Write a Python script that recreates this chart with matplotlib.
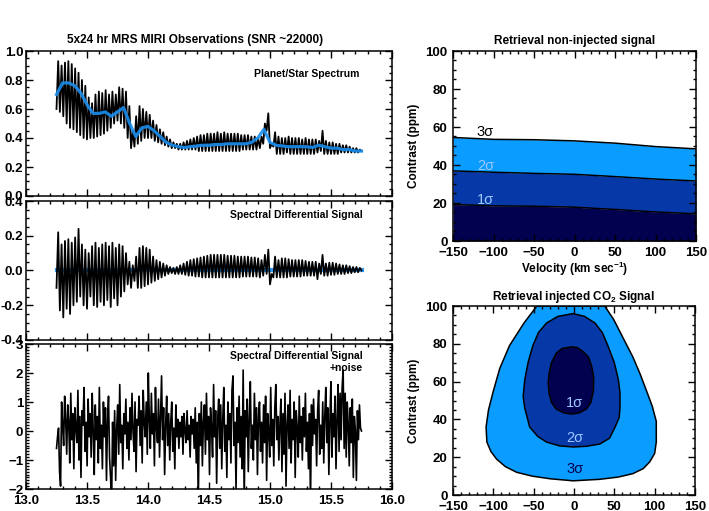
import numpy as np
import matplotlib
matplotlib.use('Agg')
import matplotlib.pyplot as plt
from matplotlib.ticker import MultipleLocator

plt.rcParams['font.family'] = ['Liberation Sans', 'DejaVu Sans']
plt.rcParams['font.weight'] = 'bold'
plt.rcParams['axes.titleweight'] = 'bold'
plt.rcParams['axes.labelweight'] = 'bold'
plt.rcParams['mathtext.fontset'] = 'custom'
plt.rcParams['mathtext.rm'] = 'Liberation Sans:bold'
plt.rcParams['mathtext.default'] = 'rm'

# ---- data ----
# planet/star spectrum: trough, peak per line cycle (13.25 - 15.75 um)
spec_trough = [0.60, 0.58, 0.55, 0.50, 0.47, 0.46, 0.44, 0.42, 0.40, 0.39,
               0.40, 0.40, 0.41, 0.42, 0.43, 0.45, 0.47, 0.50, 0.52, 0.50,
               0.47, 0.40, 0.33, 0.34, 0.36, 0.38, 0.40, 0.40, 0.40, 0.38,
               0.37, 0.36, 0.35, 0.34, 0.33, 0.33, 0.32, 0.32, 0.32, 0.32,
               0.32, 0.32, 0.31, 0.31, 0.31, 0.31, 0.31, 0.31, 0.31, 0.31,
               0.31, 0.31, 0.31, 0.31, 0.31, 0.32, 0.32, 0.32, 0.32, 0.32,
               0.33, 0.36, 0.45, 0.33, 0.34, 0.29, 0.29, 0.29, 0.30, 0.29,
               0.29, 0.29, 0.29, 0.29, 0.29, 0.29, 0.29, 0.30, 0.31, 0.29,
               0.29, 0.29, 0.29, 0.29, 0.30, 0.30, 0.30, 0.30, 0.30, 0.30]
spec_peak = [0.93, 0.90, 0.92, 0.93, 0.91, 0.88, 0.85, 0.80, 0.76, 0.68,
             0.64, 0.70, 0.72, 0.71, 0.73, 0.70, 0.72, 0.70, 0.75, 0.74,
             0.72, 0.62, 0.45, 0.55, 0.62, 0.60, 0.58, 0.56, 0.52, 0.49,
             0.46, 0.44, 0.41, 0.39, 0.37, 0.36, 0.36, 0.37, 0.38, 0.39,
             0.40, 0.41, 0.42, 0.42, 0.43, 0.43, 0.43, 0.44, 0.43, 0.44,
             0.43, 0.43, 0.43, 0.43, 0.42, 0.42, 0.42, 0.41, 0.41, 0.40,
             0.41, 0.50, 0.57, 0.36, 0.44, 0.41, 0.40, 0.40, 0.41, 0.40,
             0.40, 0.40, 0.39, 0.40, 0.39, 0.39, 0.39, 0.38, 0.45, 0.38,
             0.37, 0.37, 0.36, 0.36, 0.35, 0.35, 0.34, 0.33, 0.33, 0.32]
spec_end = 0.31

# smoothed (binned) spectrum, every 0.05 um
smooth = [0.70, 0.78, 0.78, 0.76, 0.71, 0.63, 0.57, 0.57, 0.58, 0.55,
          0.58, 0.61, 0.50, 0.41, 0.47, 0.48, 0.45, 0.41, 0.37, 0.35,
          0.34, 0.335, 0.34, 0.345, 0.35, 0.35, 0.355, 0.355, 0.36, 0.36,
          0.36, 0.36, 0.37, 0.40, 0.46, 0.37, 0.35, 0.345, 0.34, 0.34,
          0.34, 0.34, 0.335, 0.35, 0.34, 0.33, 0.33, 0.32, 0.32, 0.31, 0.31]

# spectral differential signal: trough, peak per cycle
diff_trough = [-0.10, -0.23, -0.27, -0.22, -0.25, -0.20, -0.18, -0.15, -0.20, -0.22,
               -0.15, -0.20, -0.21, -0.18, -0.20, -0.17, -0.21, -0.16, -0.20, -0.15,
               -0.12, -0.08, -0.10, -0.06, -0.10, -0.10, -0.09, -0.08, -0.07, -0.06,
               -0.05, -0.04, -0.03, -0.02, -0.015, -0.02, -0.02, -0.02, -0.025, -0.03,
               -0.03, -0.035, -0.035, -0.04, -0.04, -0.04, -0.04, -0.04, -0.04, -0.04,
               -0.04, -0.04, -0.04, -0.04, -0.04, -0.035, -0.035, -0.035, -0.035, -0.035,
               -0.04, -0.03, -0.02, -0.08, -0.04, -0.04, -0.04, -0.04, -0.04, -0.035,
               -0.035, -0.035, -0.035, -0.03, -0.03, -0.03, -0.03, -0.05, -0.02, -0.03,
               -0.03, -0.025, -0.025, -0.02, -0.02, -0.02, -0.015, -0.015, -0.01, -0.01]
diff_peak = [0.22, 0.15, 0.17, 0.18, 0.16, 0.19, 0.24, 0.15, 0.12, 0.10,
             0.14, 0.16, 0.13, 0.15, 0.16, 0.14, 0.16, 0.13, 0.15, 0.14,
             0.10, 0.05, 0.03, 0.08, 0.13, 0.14, 0.13, 0.12, 0.08, 0.06,
             0.05, 0.04, 0.03, 0.02, 0.015, 0.02, 0.03, 0.04, 0.05, 0.06,
             0.065, 0.07, 0.075, 0.08, 0.085, 0.09, 0.09, 0.09, 0.09, 0.09,
             0.085, 0.085, 0.085, 0.08, 0.08, 0.08, 0.08, 0.075, 0.075, 0.07,
             0.06, 0.09, 0.12, -0.02, 0.08, 0.06, 0.07, 0.07, 0.065, 0.06,
             0.06, 0.06, 0.06, 0.055, 0.05, 0.05, 0.05, 0.04, 0.09, 0.04,
             0.045, 0.045, 0.04, 0.035, 0.03, 0.03, 0.025, 0.02, 0.02, 0.015]
diff_end = 0.0

# differential signal + noise
noisy = [-0.6, -0.2, 0.1, -1.4, -1.9, 1.0, 0.2, -0.5, 1.2, 0.4, -0.8, 0.9, 0.3, -1.1, 1.3, -0.3, 0.6, -1.3, 0.8, 0.1,
         -0.4, 1.4, -1.0, 0.5, -1.6, 0.7, 0.2, 1.5, -0.7, 0.3, -1.2, 1.1, -0.2, 0.6, -0.9, 1.3, 0.0, -1.5, 0.9, -0.3,
         0.5, -1.1, 1.5, -0.6, 0.2, -1.3, 1.0, -0.2, 0.8, -1.7, 0.4, 1.2, -0.9, -1.6, -2.5, 0.3, -1.2, 0.7, -1.7, 0.1,
         0.9, -0.8, 1.6, -0.4, 0.2, -1.3, 0.6, -0.1, 1.1, -0.6, 0.3, -1.0, 0.8, -0.3, 1.3, 0.0, -0.7, 1.0, -1.4, 0.4,
         0.2, 1.2, -0.5, 0.7, -1.1, 1.4, 0.3, -0.2, 1.0, -0.8, 2.0, 0.4, -0.6, 1.3, -0.1, 0.6, -1.2, 1.5, 0.1, -0.4,
         1.1, -0.9, 0.5, 1.9, -0.3, 0.8, -1.5, 0.2, 1.2, -0.5, 0.6, -1.0, 0.3, 1.0, -0.7, 0.1, -1.3, 0.9, -0.2, 0.4,
         -0.6, 0.3, -0.2, 0.5, -0.8, 0.6, 0.0, -0.4, 0.7, -0.3, 0.2, -0.9, 0.5, -0.1, 0.4, -0.6, 0.8, -1.1, 0.3, -2.5,
         0.6, -0.5, 1.0, -1.2, 0.3, 0.9, -0.8, 1.3, -0.3, 0.5, -1.5, 0.8, 0.1, -0.9, 1.6, -0.2, 0.7, -1.8, 0.4, 1.1,
         -0.6, 0.9, -1.3, 0.4, 1.5, -0.7, 0.2, -1.6, 1.0, -0.3, 0.6, -1.1, 1.4, 1.9, -0.5, 0.3, -2.0, 0.8, -0.4, 1.2,
         -0.9, 0.5, -1.3, 2.1, -2.5, 0.7, -0.2, 1.1, -1.4, 0.4, 1.7, -0.6, 0.2, -1.0, 1.3, -0.3, 0.8, -1.5, 0.5, 1.0,
         -0.7, 0.3, -1.1, 0.9, -0.4, 1.2, -1.7, 0.6, 0.0, -0.9, 1.5, -0.5, 0.4, -1.2, 0.8, 1.6, -0.3, 0.5, -1.0, 0.2,
         1.1, -1.4, 0.6, -0.8, 1.3, -1.9, 0.2, 0.9, -0.6, 1.4, -1.1, 0.4, -0.3, 1.0, -1.6, 0.7, 0.1, -0.9, 1.2, -0.4,
         0.5, -1.0, 0.8, -0.2, 1.3, -0.7, 0.3, -1.3, 0.6, -2.5, 0.9, -0.5, 1.1, -0.1, 0.4, -1.2, 0.7, 1.4, -0.8, 0.2,
         -0.6, 1.0, -1.1, 0.5, 1.5, -0.4, 0.8, -1.5, 0.3, 1.7, -0.9, 0.6, -0.2, 1.2, -1.3, 0.4, 1.6, -0.7, 1.3, -0.3,
         1.5, 2.1, -0.6, 1.3, -0.9, 1.0, 0.2, -1.2, 0.8, -0.4, 1.1, -1.6, 0.5, 0.0, -1.7, 0.7, -0.3, 0.9, 0.1, 0.0]

wl_start, wl_end = 13.25, 15.75

# retrieval without injected signal: upper limits vs velocity
vel = [-150, -100, -50, 0, 50, 100, 150]
lim_1s = [19.2, 18.5, 18.3, 17.8, 16.6, 15.3, 14.3]
lim_2s = [36.9, 36.2, 35.6, 35.1, 33.9, 32.6, 31.6]
lim_3s = [54.5, 53.5, 53.3, 52.7, 51.5, 49.7, 48.5]

# retrieval with injected CO2 signal: confidence contours (velocity, contrast)
c3_v = [-46, -62, -80, -92, -100, -106, -109, -108, -103, -96, -85, -71, -52, -30, -1, 32, 55, 73, 86, 94, 100, 102, 102, 97, 90, 82, 73, 61, 49, 38]
c3_c = [100, 91, 79, 67, 55, 45, 36, 28, 23, 19, 15, 12, 10, 8.6, 7.5, 8.3, 9.5, 11.3, 14, 17.6, 22, 28, 39, 47, 55, 64, 73, 83, 93, 100]
c2_v = [-1, -20, -34, -44, -51, -57, -61, -63, -61, -55, -45, -34, -18, -1, 16, 32, 44, 51, 56, 57, 57, 55, 50, 42, 35, 26, 13]
c2_c = [96, 94.5, 91, 86, 79, 70, 61, 52, 46, 36, 31, 28, 26, 25.4, 25.8, 27, 30, 36, 41, 46, 54, 61, 70, 79, 86, 91, 94.5]
c1_v = [-3, -15, -22, -28, -31, -32, -31, -28, -22, -13, -3, 7, 15.5, 21, 24, 24.5, 22, 18, 11, 4]
c1_c = [78.4, 77.5, 75, 70, 64, 59, 54, 49, 45.5, 43.5, 42.8, 43.5, 45.5, 49, 55, 62, 68, 73, 76, 78]

# ---- colours ----
BLUE_LINE = '#1a8fef'
C3 = '#0a9cff'
C2 = '#0638a8'
C1 = '#01014f'
LABEL_BLUE = '#9cc8ff'


def zigzag(trough, peak, end):
    vals = np.column_stack([trough, peak]).ravel()
    vals = np.append(vals, end)
    return np.linspace(wl_start, wl_end, len(vals)), vals


def idl_axes(ax, xmaj, xmin, ymaj, ymin, pad=4):
    ax.xaxis.set_major_locator(MultipleLocator(xmaj))
    ax.xaxis.set_minor_locator(MultipleLocator(xmin))
    ax.yaxis.set_major_locator(MultipleLocator(ymaj))
    ax.yaxis.set_minor_locator(MultipleLocator(ymin))
    ax.tick_params(which='both', direction='in', top=True, right=True,
                   labelsize=9.5, width=1, pad=4)
    ax.tick_params(axis='y', pad=pad)
    ax.tick_params(which='major', length=5)
    ax.tick_params(which='minor', length=2.5)
    for s in ax.spines.values():
        s.set_linewidth(1.1)


W, H = 709, 511
fig = plt.figure(figsize=(W / 100, H / 100), dpi=100)


def px_axes(x0, y0, x1, y1):
    return fig.add_axes([x0 / W, 1 - y1 / H, (x1 - x0) / W, (y1 - y0) / H])


# panel 1
ax1 = px_axes(26, 51, 392, 196)
x, y = zigzag(spec_trough, spec_peak, spec_end)
ax1.plot(x, y, color='black', lw=1.3)
ax1.plot(np.linspace(wl_start, wl_end, len(smooth)), smooth, color=BLUE_LINE, lw=2.3, alpha=0.9)
ax1.set_xlim(13, 16)
ax1.set_ylim(0, 1.0)
idl_axes(ax1, 0.5, 0.1, 0.2, 0.05, pad=2)
ax1.set_xticklabels([])
ax1.yaxis.set_major_formatter(plt.FormatStrFormatter('%.1f'))
ax1.text(0.91, 0.84, 'Planet/Star Spectrum', transform=ax1.transAxes,
         ha='right', va='center', fontsize=7.5)
fig.text(195 / W, 1 - 40 / H, '5x24 hr MRS MIRI Observations (SNR ~22000)',
         ha='center', va='center', fontsize=8.5)

# panel 2
ax2 = px_axes(26, 201, 392, 340)
x, y = zigzag(diff_trough, diff_peak, diff_end)
ax2.plot([wl_start, wl_end], [0, 0], color=BLUE_LINE, lw=3, alpha=0.9)
ax2.plot(x, y, color='black', lw=1.3)
ax2.set_xlim(13, 16)
ax2.set_ylim(-0.4, 0.4)
idl_axes(ax2, 0.5, 0.1, 0.2, 0.05, pad=2)
ax2.set_xticklabels([])
ax2.yaxis.set_major_formatter(plt.FormatStrFormatter('%.1f'))
ax2.text(0.92, 0.9, 'Spectral Differential Signal', transform=ax2.transAxes,
         ha='right', va='center', fontsize=7.5)

# panel 3
ax3 = px_axes(26, 344, 392, 489)
ax3.plot(np.linspace(wl_start, wl_end, len(noisy)), noisy, color='black', lw=1.2)
ax3.set_xlim(13, 16)
ax3.set_ylim(-2, 3)
idl_axes(ax3, 0.5, 0.1, 1, 0.1, pad=2)
ax3.xaxis.set_major_formatter(plt.FormatStrFormatter('%.1f'))
ax3.text(0.92, 0.92, 'Spectral Differential Signal', transform=ax3.transAxes,
         ha='right', va='center', fontsize=7.5)
ax3.text(0.92, 0.835, '+noise', transform=ax3.transAxes,
         ha='right', va='center', fontsize=7.5)

# top right
ax4 = px_axes(453, 51, 696, 241)
ax4.fill_between(vel, 0, lim_1s, color=C1, lw=0)
ax4.fill_between(vel, lim_1s, lim_2s, color=C2, lw=0)
ax4.fill_between(vel, lim_2s, lim_3s, color=C3, lw=0)
for lim in (lim_1s, lim_2s, lim_3s):
    ax4.plot(vel, lim, color='black', lw=1.1)
ax4.set_xlim(-150, 150)
ax4.set_ylim(0, 100)
idl_axes(ax4, 50, 10, 20, 5)
ax4.set_title('Retrieval non-injected signal', fontsize=8.5, pad=5)
ax4.set_ylabel('Contrast (ppm)', fontsize=8.5, labelpad=4)
ax4.set_xlabel('Velocity (km sec$^{-1}$)', fontsize=8.5, labelpad=1)
ax4.text(-110, 57.5, '3σ', color='black', fontsize=10.5, fontweight='normal', ha='center', va='center')
ax4.text(-110, 39.5, '2σ', color=LABEL_BLUE, fontsize=10.5, fontweight='normal', ha='center', va='center')
ax4.text(-110, 21.5, '1σ', color=LABEL_BLUE, fontsize=10.5, fontweight='normal', ha='center', va='center')

# bottom right
ax5 = px_axes(453, 306, 695, 495)
ax5.fill(c3_v, c3_c, facecolor=C3, edgecolor='black', lw=1.1)
ax5.fill(c2_v, c2_c, facecolor=C2, edgecolor='black', lw=1.1)
ax5.fill(c1_v, c1_c, facecolor=C1, edgecolor='black', lw=1.1)
ax5.set_xlim(-150, 150)
ax5.set_ylim(0, 100)
idl_axes(ax5, 50, 10, 20, 5)
ax5.set_title('Retrieval injected CO$_2$ Signal', fontsize=8.5, pad=4)
ax5.set_ylabel('Contrast (ppm)', fontsize=8.5, labelpad=4)
ax5.text(1, 48.5, '1σ', color=LABEL_BLUE, fontsize=10.5, fontweight='normal', ha='center', va='center')
ax5.text(1, 30, '2σ', color=LABEL_BLUE, fontsize=10.5, fontweight='normal', ha='center', va='center')
ax5.text(1, 13.5, '3σ', color=C1, fontsize=10.5, fontweight='normal', ha='center', va='center')

fig.savefig('out.png', dpi=100)
